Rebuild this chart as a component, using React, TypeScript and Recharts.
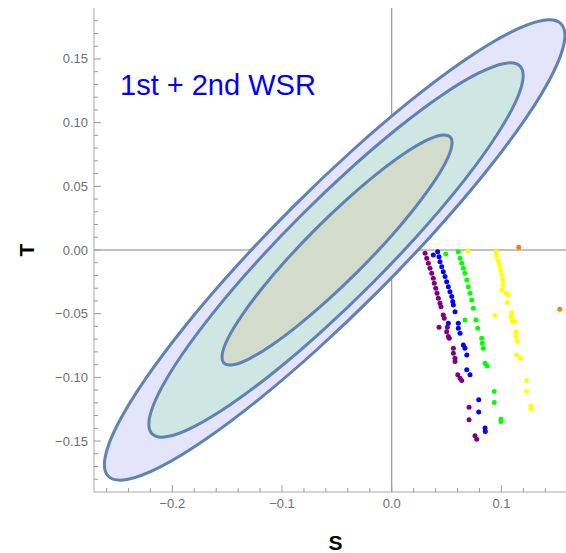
import React from "react";
import {
  ScatterChart,
  Scatter,
  XAxis,
  YAxis,
  ReferenceLine,
  Customized,
} from "recharts";

// confidence contours (outer -> inner), [S, T]
const outerContour = [
  [0.1567, 0.1797], [0.1597, 0.1649], [0.1483, 0.1388], [0.1232, 0.1033],
  [0.0862, 0.0607], [0.0397, 0.014], [-0.0129, -0.0337], [-0.0682, -0.079],
  [-0.1225, -0.119], [-0.172, -0.1509], [-0.2132, -0.1725], [-0.2434, -0.1823],
  [-0.2607, -0.1797], [-0.2637, -0.1649], [-0.2523, -0.1388], [-0.2272, -0.1033],
  [-0.1902, -0.0607], [-0.1437, -0.014], [-0.0911, 0.0337], [-0.0358, 0.079],
  [0.0185, 0.119], [0.068, 0.1509], [0.1092, 0.1725], [0.1394, 0.1823],
];
const middleContour = [
  [0.1188, 0.146], [0.1213, 0.1339], [0.112, 0.1127], [0.0917, 0.0838],
  [0.0617, 0.0491], [0.024, 0.0111], [-0.0188, -0.0276], [-0.0637, -0.0644],
  [-0.1078, -0.0969], [-0.148, -0.1227], [-0.1816, -0.1402], [-0.2063, -0.1482],
  [-0.2203, -0.146], [-0.2229, -0.1339], [-0.2136, -0.1127], [-0.1933, -0.0838],
  [-0.1633, -0.0491], [-0.1255, -0.0111], [-0.0828, 0.0276], [-0.0378, 0.0644],
  [0.0063, 0.0969], [0.0465, 0.1227], [0.08, 0.1402], [0.1047, 0.1482],
];
const innerContour = [
  [0.0544, 0.0898], [0.0559, 0.0824], [0.0502, 0.0694], [0.0376, 0.0517],
  [0.0191, 0.0304], [-0.004, 0.007], [-0.0304, -0.0168], [-0.058, -0.0395],
  [-0.0851, -0.0594], [-0.1098, -0.0754], [-0.1304, -0.0862], [-0.1456, -0.0911],
  [-0.1541, -0.0898], [-0.1556, -0.0824], [-0.15, -0.0694], [-0.1374, -0.0517],
  [-0.1189, -0.0304], [-0.0957, -0.007], [-0.0694, 0.0168], [-0.0418, 0.0395],
  [-0.0146, 0.0594], [0.0101, 0.0754], [0.0307, 0.0862], [0.0459, 0.0911],
];

// model scan points
const purplePts = [
  [0.0304, -0.0026], [0.0319, -0.0065], [0.0334, -0.0104], [0.0349, -0.0144],
  [0.0365, -0.0183], [0.0379, -0.0222], [0.0388, -0.0261], [0.0401, -0.03],
  [0.0413, -0.034], [0.0425, -0.0379], [0.044, -0.0418], [0.0449, -0.0445],
  [0.047, -0.051], [0.0479, -0.0536], [0.0431, -0.0606], [0.0507, -0.0606],
  [0.0501, -0.0641], [0.0516, -0.068], [0.0525, -0.0693], [0.0562, -0.0771],
  [0.0562, -0.081], [0.0577, -0.0849], [0.0577, -0.0876], [0.0602, -0.098],
  [0.0623, -0.1006], [0.0638, -0.1025], [0.0705, -0.1234], [0.0705, -0.1333],
  [0.0759, -0.1459], [0.0775, -0.1485],
];
const bluePts = [
  [0.0379, -0.0039], [0.0419, -0.0013], [0.0431, -0.0053], [0.044, -0.0092],
  [0.0456, -0.0131], [0.047, -0.017], [0.0486, -0.0209], [0.0501, -0.0249],
  [0.0516, -0.0288], [0.0531, -0.0327], [0.0547, -0.0366], [0.0556, -0.0405],
  [0.0562, -0.0431], [0.0577, -0.0484], [0.0516, -0.0575], [0.0607, -0.0575],
  [0.0607, -0.0614], [0.0623, -0.0653], [0.0653, -0.0745], [0.0668, -0.0771],
  [0.0684, -0.0824], [0.0684, -0.0941], [0.0714, -0.098], [0.0793, -0.1176],
  [0.0793, -0.1271], [0.0851, -0.1398], [0.0853, -0.1425],
];
const greenPts = [
  [0.0492, -0.0031], [0.0607, -0.0013], [0.0623, -0.0065], [0.0638, -0.0104],
  [0.0653, -0.0144], [0.0668, -0.0183], [0.0684, -0.0235], [0.0698, -0.0288],
  [0.0714, -0.034], [0.0729, -0.0392], [0.0744, -0.0457], [0.0668, -0.0549],
  [0.0768, -0.0549], [0.0784, -0.0614], [0.082, -0.0693], [0.0826, -0.0732],
  [0.0835, -0.0771], [0.0851, -0.0889], [0.0871, -0.091], [0.0935, -0.1111],
  [0.0935, -0.1198], [0.0996, -0.1328], [0.0996, -0.1347],
];
const yellowPts = [
  [0.0693, -0.0005], [0.0951, -0.0013], [0.0957, -0.0047], [0.0972, -0.0084],
  [0.0981, -0.0118], [0.0994, -0.0157], [0.1003, -0.0196], [0.1012, -0.0235],
  [0.1017, -0.0275], [0.1003, -0.0314], [0.1042, -0.034], [0.1063, -0.0353],
  [0.1054, -0.0413], [0.0942, -0.0515], [0.1094, -0.0492], [0.1088, -0.0528],
  [0.1099, -0.0562], [0.1124, -0.0562], [0.1133, -0.0641], [0.1133, -0.068],
  [0.1145, -0.0719], [0.1139, -0.0824], [0.1176, -0.0849], [0.1231, -0.1025],
  [0.1231, -0.1111], [0.127, -0.1224], [0.127, -0.1249],
];
const orangePts = [
  [0.1158, 0.0021], [0.1531, -0.0465],
];

const xMajor = [-0.2, -0.1, 0, 0.1];
const xLabels = ["\u22120.2", "\u22120.1", "0.0", "0.1"];
const yMajor = [-0.15, -0.1, -0.05, 0, 0.05, 0.1, 0.15];
const yLabels = ["\u22120.15", "\u22120.10", "\u22120.05", "0.00", "0.05", "0.10", "0.15"];

const xTicks: number[] = [];
for (let i = -13; i <= 8; i++) xTicks.push(+(i * 0.02).toFixed(2));
const yTicks: number[] = [];
for (let i = -18; i <= 18; i++) yTicks.push(+(i * 0.01).toFixed(2));

const toXY = (arr: number[][]) => arr.map(([x, y]) => ({ x, y }));

const FRAME = "#a8a8a8";
const TICK = "#9a9a9a";
const LABEL = "#6e6e6e";
const EDGE = "#5f82b4";

const majorIdx = (list: number[], v: number) =>
  list.findIndex((m) => Math.abs(m - v) < 1e-6);

function BottomTick(props: any) {
  const { x, y, payload } = props;
  const i = majorIdx(xMajor, payload.value);
  const base = y - 7;
  return (
    <g>
      <line x1={x} x2={x} y1={base} y2={base - (i >= 0 ? 7 : 4)} stroke={TICK} />
      {i >= 0 && (
        <text x={x} y={y} dy="0.71em" textAnchor="middle" fill={LABEL} fontSize={13}>
          {xLabels[i]}
        </text>
      )}
    </g>
  );
}

function TopTick(props: any) {
  const { x, y, payload } = props;
  const i = majorIdx(xMajor, payload.value);
  return <line x1={x} x2={x} y1={y} y2={y + (i >= 0 ? 7 : 4)} stroke={TICK} />;
}

function LeftTick(props: any) {
  const { x, y, payload } = props;
  const i = majorIdx(yMajor, payload.value);
  const base = x + 6;
  return (
    <g>
      <line x1={base} x2={base + (i >= 0 ? 7 : 4)} y1={y} y2={y} stroke={TICK} />
      {i >= 0 && (
        <text x={x} y={y} dy="0.35em" textAnchor="end" fill={LABEL} fontSize={13}>
          {yLabels[i]}
        </text>
      )}
    </g>
  );
}

const noDot = () => <g />;
const dot = (color: string) => (p: any) => <circle cx={p.cx} cy={p.cy} r={2.5} fill={color} />;

export default function App() {
  return (
    <div
      style={{
        position: "absolute",
        left: 0,
        top: 0,
        width: 566,
        height: 553,
        overflow: "hidden",
        background: "#fff",
        fontFamily: "'Liberation Sans', Arial, sans-serif",
      }}
    >
      <ScatterChart width={600} height={553} margin={{ top: 8, right: 23, bottom: 0, left: 0 }}>
        <XAxis
          dataKey="x"
          type="number"
          domain={[-0.2714, 0.1689]}
          allowDataOverflow
          ticks={xTicks}
          interval={0}
          tickSize={0}
          tickMargin={7}
          tickLine={false}
          tick={<BottomTick />}
          axisLine={{ stroke: FRAME }}
          height={61}
          label={{ value: "S", position: "insideBottom", offset: 3, fill: "#000", fontSize: 21, fontWeight: "bold" }}
        />
        <XAxis
          xAxisId="top"
          orientation="top"
          type="number"
          domain={[-0.2714, 0.1689]}
          allowDataOverflow
          ticks={xTicks}
          interval={0}
          tickSize={0}
          tickMargin={0}
          tickLine={false}
          tick={<TopTick />}
          axisLine={{ stroke: FRAME }}
          height={0}
        />
        <YAxis
          dataKey="y"
          type="number"
          domain={[-0.19, 0.19]}
          allowDataOverflow
          ticks={yTicks}
          interval={0}
          tickSize={0}
          tickMargin={6}
          tickLine={false}
          tick={<LeftTick />}
          axisLine={{ stroke: FRAME }}
          width={94}
          label={{
            value: "T",
            angle: -90,
            position: "insideLeft",
            offset: 27,
            fill: "#000",
            fontSize: 21,
            fontWeight: "bold",
            style: { textAnchor: "middle" },
          }}
        />
        <YAxis
          yAxisId="right"
          orientation="right"
          type="number"
          domain={[-0.19, 0.19]}
          tick={false}
          tickLine={false}
          axisLine={{ stroke: FRAME }}
          width={0}
        />
        <Scatter
          data={toXY(outerContour)}
          fill="#e4e4fa"
          line={{ fill: "#e4e4fa", stroke: EDGE, strokeWidth: 3 }}
          lineJointType="basisClosed"
          shape={noDot}
          isAnimationActive={false}
        />
        <Scatter
          data={toXY(middleContour)}
          fill="#cfe7e3"
          line={{ fill: "#cfe7e3", stroke: EDGE, strokeWidth: 3 }}
          lineJointType="basisClosed"
          shape={noDot}
          isAnimationActive={false}
        />
        <Scatter
          data={toXY(innerContour)}
          fill="#d3dccb"
          line={{ fill: "#d3dccb", stroke: EDGE, strokeWidth: 3 }}
          lineJointType="basisClosed"
          shape={noDot}
          isAnimationActive={false}
        />
        <ReferenceLine x={0} stroke="#858585" />
        <ReferenceLine y={0} stroke="#858585" />
        <Scatter data={toXY(purplePts)} fill="#800080" shape={dot("#800080")} isAnimationActive={false} />
        <Scatter data={toXY(bluePts)} fill="#0000ff" shape={dot("#0000ff")} isAnimationActive={false} />
        <Scatter data={toXY(greenPts)} fill="#00ff00" shape={dot("#00ff00")} isAnimationActive={false} />
        <Scatter data={toXY(yellowPts)} fill="#ffff00" shape={dot("#ffff00")} isAnimationActive={false} />
        <Scatter data={toXY(orangePts)} fill="#ff8000" shape={dot("#ff8000")} isAnimationActive={false} />
        <Customized
          component={() => (
            <text x={120} y={95} fill="#0000ff" fontSize={29}>
              1st + 2nd WSR
            </text>
          )}
        />
      </ScatterChart>
    </div>
  );
}
